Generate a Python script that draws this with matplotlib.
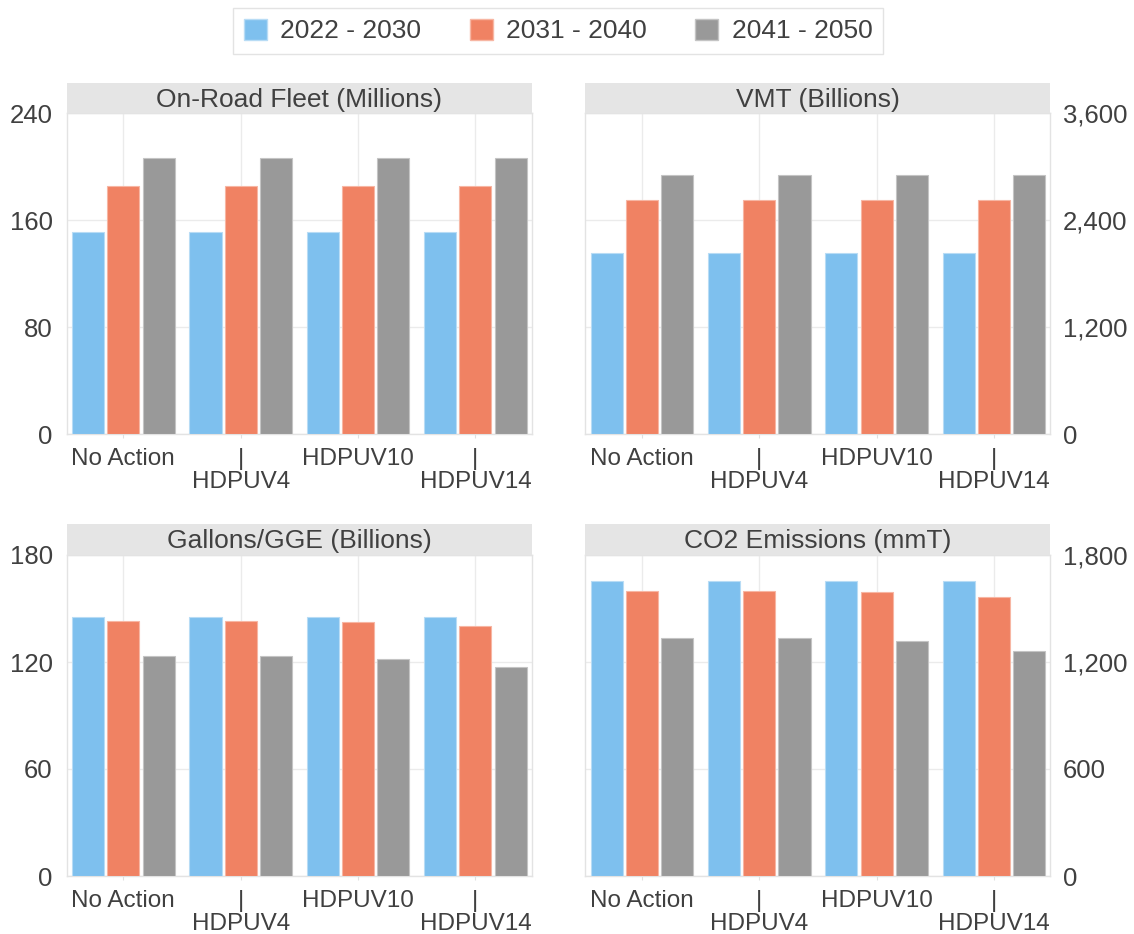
import matplotlib
matplotlib.use("Agg")
import matplotlib.pyplot as plt
from matplotlib.patches import Patch
from matplotlib.ticker import FuncFormatter, FixedLocator
import numpy as np

plt.rcParams['font.family'] = ['Liberation Sans', 'DejaVu Sans']

categories = ["No Action", "|\nHDPUV4", "HDPUV10", "|\nHDPUV14"]
series_names = ["2022 - 2030", "2031 - 2040", "2041 - 2050"]
colors = ["#7EC0EE", "#F08263", "#999999"]
edge_colors = ["#B8DCF5", "#F7B6A3", "#C4C4C4"]

fleet = [[151.3, 151.3, 151.3, 151.3],
         [185.6, 185.6, 185.6, 185.6],
         [206.6, 206.6, 206.6, 206.6]]
vmt = [[2035, 2035, 2035, 2035],
       [2623, 2623, 2623, 2623],
       [2906, 2906, 2906, 2906]]
gallons = [[145.3, 145.3, 145.3, 145.3],
           [143.2, 143.2, 142.7, 140.4],
           [123.2, 123.2, 121.7, 117.0]]
co2 = [[1654, 1654, 1654, 1654],
       [1600, 1600, 1592, 1566],
       [1334, 1334, 1318, 1264]]

titles = ["On-Road Fleet (Millions)", "VMT (Billions)", "Gallons/GGE (Billions)", "CO2 Emissions (mmT)"]
datasets = [fleet, vmt, gallons, co2]
yticks = [[0, 80, 160, 240], [0, 1200, 2400, 3600], [0, 60, 120, 180], [0, 600, 1200, 1800]]

W, H = 1134, 934
fig = plt.figure(figsize=(W / 100, H / 100), dpi=100)
text_color = "#404040"

left_x = [66.7, 585.3]
panel_w = 465.0
plot_top = [113.3, 555.0]
plot_h = 321.0
strip_h = 30.6

bar_w = 0.273
step = 0.30

for k in range(4):
    r, c = divmod(k, 2)
    x0 = left_x[c] / W
    w = panel_w / W
    yb = 1 - (plot_top[r] + plot_h) / H
    h = plot_h / H
    ax = fig.add_axes([x0, yb, w, h])
    data = datasets[k]
    x = np.arange(len(categories))
    for j in range(3):
        ax.bar(x + (j - 1) * step, data[j], width=bar_w, color=colors[j],
               edgecolor=edge_colors[j], linewidth=0.8, zorder=3)
    ax.set_xlim(-0.483, 3.48)
    ax.set_ylim(yticks[k][0], yticks[k][-1])
    ax.yaxis.set_major_locator(FixedLocator(yticks[k]))
    ax.yaxis.set_major_formatter(FuncFormatter(lambda v, p: f"{v:,.0f}"))
    ax.set_xticks(x)
    ax.set_xticklabels(categories, linespacing=1.05)
    ax.grid(True, color="#EBEBEB", linewidth=1.0, zorder=0)
    ax.set_axisbelow(True)
    for s in ax.spines.values():
        s.set_color("#E3E3E3")
        s.set_linewidth(1.0)
    ax.tick_params(axis='x', length=3, color="#E0E0E0", labelsize=17.5,
                   labelcolor=text_color, pad=7)
    ax.tick_params(axis='y', length=0, labelsize=18.5, labelcolor=text_color, pad=10)
    if c == 1:
        ax.yaxis.tick_right()
        ax.tick_params(axis='y', length=0, pad=9)
    # strip
    sax = fig.add_axes([x0, 1 - plot_top[r] / H, w, strip_h / H])
    sax.set_facecolor("#E5E5E5")
    sax.set_xticks([])
    sax.set_yticks([])
    for s in sax.spines.values():
        s.set_visible(False)
    sax.text(0.5, 0.45, titles[k], ha='center', va='center', fontsize=19,
             color=text_color, transform=sax.transAxes)

handles = [Patch(facecolor=colors[j], edgecolor=edge_colors[j], label=series_names[j]) for j in range(3)]
leg = fig.legend(handles=handles, loc='upper center', bbox_to_anchor=(558 / W, 1 - 8 / H),
                 ncol=3, fontsize=19, frameon=True, fancybox=False, edgecolor="#DDDDDD",
                 handlelength=0.87, handleheight=0.87, handletextpad=0.5, columnspacing=1.85,
                 borderpad=0.4, borderaxespad=0.0, labelcolor=text_color)
leg.get_frame().set_linewidth(1.0)

fig.savefig("out.png", dpi=100, facecolor="white")
